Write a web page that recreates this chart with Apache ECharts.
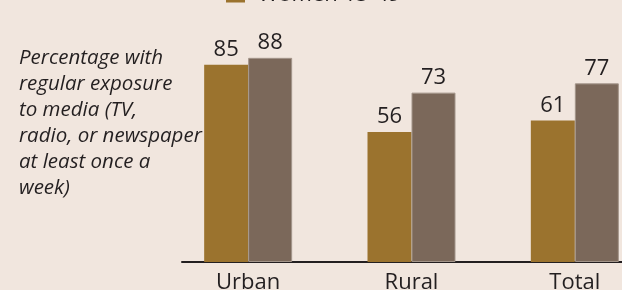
<!DOCTYPE html>
<html>
<head>
<meta charset="utf-8">
<script src="https://cdn.jsdelivr.net/npm/echarts@6/dist/echarts.min.js"></script>
<style>
html,body{margin:0;padding:0;background:#f1e6de;}
#chart{width:622px;height:290px;}
</style>
</head>
<body>
<div id="chart"></div>
<script>
const categories = ['Urban', 'Rural', 'Total'];
const seriesNames = ['Men 15-49', 'Women 15-49'];
const womenValues = [85, 56, 61];
const menValues = [88, 73, 77];
const yMax = 100;
const sideNote = 'Percentage with\nregular exposure\nto media (TV,\nradio, or newspaper\nat least once a\nweek)';

const textColor = '#231f20';
const font = 'Open Sans';
const chart = echarts.init(document.getElementById('chart'), null, {renderer: 'canvas'});
chart.setOption({
  backgroundColor: '#f1e6de',
  animation: false,
  title: {
    text: sideNote,
    left: 14, top: 40,
    textStyle: {fontFamily: font, fontStyle: 'italic', fontWeight: 'normal', fontSize: 20.5, lineHeight: 26, color: textColor}
  },
  legend: {
    orient: 'vertical',
    left: 220, top: -53,
    data: [seriesNames[0], seriesNames[1]],
    itemWidth: 19, itemHeight: 15, itemGap: 10,
    icon: 'rect',
    textStyle: {fontFamily: font, fontSize: 22, color: textColor, padding: [0, 0, 0, 8]}
  },
  grid: [
    {left: 166.5, width: 490, top: 30, height: 232, containLabel: false, outerBoundsMode: 'none'},
    {left: 182, right: 0, bottom: 28, height: 0, containLabel: false, outerBoundsMode: 'none'}
  ],
  xAxis: [
    {
      type: 'category', data: categories, gridIndex: 0,
      axisLine: {show: false}, axisTick: {show: false},
      axisLabel: {fontFamily: font, fontSize: 22, color: textColor, margin: 10}
    },
    {
      type: 'value', gridIndex: 1, min: 0, max: 1,
      axisLine: {show: true, onZero: false, lineStyle: {color: textColor, width: 2}},
      axisTick: {show: false}, axisLabel: {show: false}, splitLine: {show: false}
    }
  ],
  yAxis: [
    {type: 'value', gridIndex: 0, min: 0, max: yMax, show: false, splitLine: {show: false}},
    {type: 'value', gridIndex: 1, show: false, splitLine: {show: false}}
  ],
  series: [
    {
      name: seriesNames[1], type: 'bar', data: womenValues, barWidth: 44, barGap: '0%',
      itemStyle: {color: '#9b732e'},
      label: {show: true, position: 'top', distance: 4, fontFamily: font, fontSize: 22, color: textColor}
    },
    {
      name: seriesNames[0], type: 'bar', data: menValues, barWidth: 44, barGap: '0%',
      itemStyle: {color: '#7b685a', borderColor: '#a3958a', borderWidth: 1},
      label: {show: true, position: 'top', distance: 4, fontFamily: font, fontSize: 22, color: textColor}
    }
  ]
});
</script>
</body>
</html>
